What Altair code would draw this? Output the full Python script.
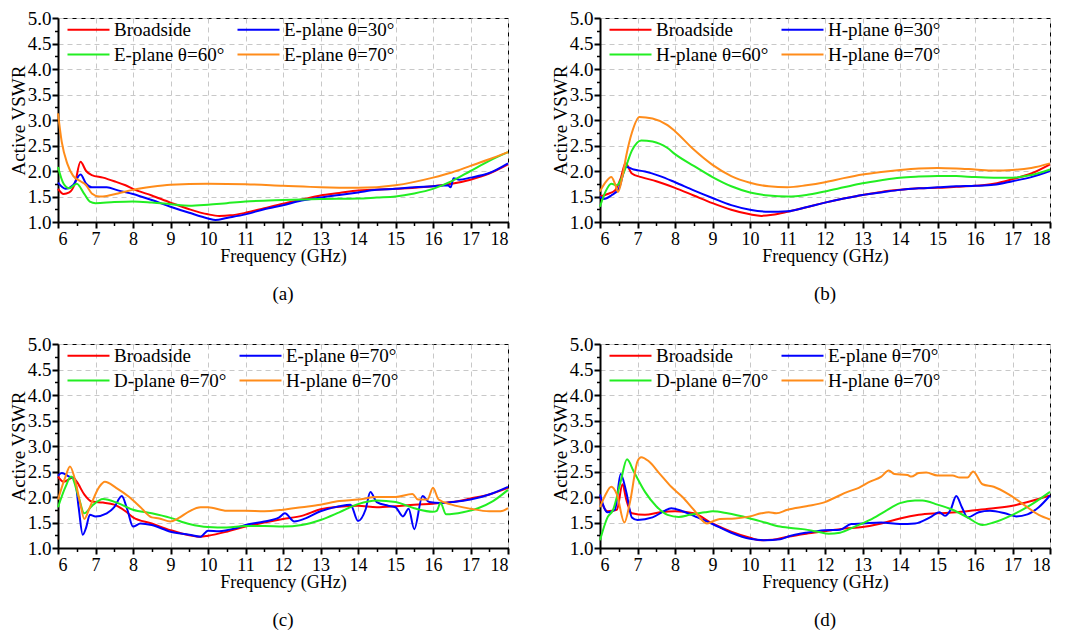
import altair as alt
import pandas as pd

FONT = "Liberation Serif, Times New Roman, Times, serif"
AXIS_FONT = "Liberation Serif"
COLORS = ["#ff0000", "#0000ff", "#22ee22", "#ff8c1a"]

# ---------------- Panel (a) ----------------
a_labels = ["Broadside", "E-plane θ=30°", "E-plane θ=60°", "E-plane θ=70°"]
a_broad_f = [6, 6.15, 6.3, 6.45, 6.6, 6.75, 6.9, 7.2, 7.5, 7.8, 8, 8.5, 9, 9.5, 10, 10.3, 10.6, 11, 11.5, 12, 12.5, 13, 13.5, 14, 15, 16, 16.5, 17, 17.5, 18]
a_broad_v = [1.65, 1.55, 1.58, 1.75, 2.18, 2.0, 1.92, 1.87, 1.8, 1.72, 1.65, 1.52, 1.38, 1.25, 1.15, 1.12, 1.13, 1.18, 1.27, 1.36, 1.44, 1.52, 1.57, 1.62, 1.65, 1.7, 1.75, 1.83, 1.95, 2.13]
a_e30_f = [6, 6.2, 6.4, 6.6, 6.75, 6.9, 7.3, 7.6, 8, 8.5, 9, 9.5, 10, 10.2, 10.5, 11, 11.5, 12, 12.5, 13, 13.5, 14, 14.5, 15, 15.5, 16, 16.4, 16.47, 16.55, 16.7, 17, 17.5, 18]
a_e30_v = [1.77, 1.65, 1.72, 1.93, 1.75, 1.68, 1.68, 1.62, 1.55, 1.43, 1.3, 1.18, 1.07, 1.04, 1.08, 1.15, 1.25, 1.33, 1.42, 1.48, 1.53, 1.58, 1.63, 1.65, 1.68, 1.70, 1.72, 1.68, 1.86, 1.83, 1.87, 1.96, 2.15]
a_e60_f = [6, 6.15, 6.3, 6.5, 6.7, 6.85, 7, 7.5, 8, 8.5, 9, 9.5, 10, 10.5, 11, 12, 13, 14, 14.5, 15, 15.5, 16, 16.5, 17, 17.5, 18]
a_e60_v = [2.08, 1.75, 1.66, 1.75, 1.55, 1.4, 1.37, 1.39, 1.4, 1.38, 1.35, 1.32, 1.34, 1.37, 1.4, 1.43, 1.45, 1.46, 1.48, 1.5, 1.56, 1.65, 1.8, 2.0, 2.2, 2.37]
a_e70_f = [6, 6.1, 6.25, 6.4, 6.6, 6.75, 6.9, 7.1, 7.3, 7.6, 8, 8.5, 9, 10, 11, 12, 13, 14, 15, 16, 16.5, 17, 17.5, 18]
a_e70_v = [3.13, 2.57, 2.14, 1.91, 1.8, 1.72, 1.56, 1.5, 1.51, 1.56, 1.63, 1.69, 1.73, 1.75, 1.74, 1.71, 1.68, 1.67, 1.72, 1.87, 1.97, 2.1, 2.23, 2.37]

# ---------------- Panel (b) ----------------
b_labels = ["Broadside", "H-plane θ=30°", "H-plane θ=60°", "H-plane θ=70°"]
b_broad_f = [6, 6.2, 6.4, 6.55, 6.68, 6.85, 7.1, 7.5, 8, 8.5, 9, 9.5, 10, 10.3, 10.6, 11, 11.5, 12, 12.5, 13, 13.5, 14, 14.5, 15, 15.5, 16, 16.5, 17, 17.5, 18]
b_broad_v = [1.5, 1.55, 1.62, 1.85, 2.15, 1.95, 1.88, 1.8, 1.67, 1.52, 1.37, 1.24, 1.15, 1.12, 1.14, 1.2, 1.29, 1.38, 1.46, 1.53, 1.59, 1.63, 1.66, 1.67, 1.69, 1.71, 1.75, 1.84, 1.95, 2.13]
b_h30_f = [6, 6.1, 6.3, 6.5, 6.7, 6.9, 7.2, 7.6, 8, 8.5, 9, 9.5, 10, 10.5, 11, 11.5, 12, 12.5, 13, 13.5, 14, 14.5, 15, 15.5, 16, 16.5, 17, 17.5, 18]
b_h30_v = [1.5, 1.45, 1.52, 1.65, 2.08, 2.03, 1.99, 1.9, 1.78, 1.62, 1.47, 1.33, 1.24, 1.2, 1.21, 1.29, 1.38, 1.46, 1.53, 1.58, 1.63, 1.66, 1.68, 1.7, 1.71, 1.73, 1.8, 1.88, 2.0]
b_h60_f = [6, 6.15, 6.3, 6.45, 6.65, 6.85, 7.1, 7.4, 7.8, 8, 8.5, 9, 9.5, 10, 10.5, 11, 11.5, 12, 12.5, 13, 13.5, 14, 14.5, 15, 15.5, 16, 16.5, 17, 17.5, 18]
b_h60_v = [1.3, 1.6, 1.75, 1.72, 2.0, 2.4, 2.6, 2.58, 2.45, 2.33, 2.1, 1.88, 1.7, 1.58, 1.52, 1.5, 1.53, 1.6, 1.68, 1.76, 1.82, 1.87, 1.89, 1.9, 1.9, 1.88, 1.87, 1.87, 1.92, 2.03]
b_h70_f = [6, 6.15, 6.3, 6.4, 6.48, 6.6, 6.7, 6.85, 7.05, 7.4, 7.8, 8, 8.5, 9, 9.5, 10, 10.5, 11, 11.5, 12, 12.5, 13, 13.5, 14, 14.5, 15, 15.5, 16, 16.5, 17, 17.5, 18]
b_h70_v = [1.6, 1.78, 1.88, 1.75, 1.59, 1.9, 2.3, 2.75, 3.06, 3.03, 2.9, 2.78, 2.42, 2.12, 1.9, 1.77, 1.7, 1.68, 1.72, 1.78, 1.86, 1.93, 1.98, 2.02, 2.05, 2.06, 2.05, 2.03, 2.01, 2.02, 2.06, 2.15]

# ---------------- Panel (c) ----------------
c_labels = ["Broadside", "E-plane θ=70°", "D-plane θ=70°", "H-plane θ=70°"]
c_broad_f = [6, 6.15, 6.4, 6.5, 6.7, 6.9, 7.2, 7.5, 7.8, 8, 8.5, 9, 9.5, 9.8, 10, 10.5, 11, 11.5, 12, 12.5, 13, 13.5, 14, 14.5, 15, 15.5, 16, 16.5, 17, 17.5, 18]
c_broad_v = [2.4, 2.3, 2.38, 2.3, 2.05, 1.91, 1.89, 1.85, 1.72, 1.6, 1.48, 1.35, 1.25, 1.22, 1.24, 1.32, 1.42, 1.5, 1.57, 1.63, 1.76, 1.81, 1.83, 1.8, 1.82, 1.85, 1.87, 1.9, 1.97, 2.05, 2.18]
c_e70_f = [6, 6.1, 6.3, 6.45, 6.55, 6.66, 6.75, 6.85, 7, 7.3, 7.5, 7.7, 7.85, 8.0, 8.2, 8.5, 9, 9.5, 9.8, 10, 10.3, 10.7, 11, 11.5, 11.9, 12.05, 12.3, 12.6, 13, 13.5, 13.8, 14.0, 14.2, 14.33, 14.5, 14.8, 15, 15.2, 15.35, 15.5, 15.72, 15.9, 16.2, 16.5, 17, 17.5, 18]
c_e70_v = [2.42, 2.47, 2.4, 2.35, 1.8, 1.26, 1.4, 1.65, 1.62, 1.68, 1.8, 2.02, 1.75, 1.42, 1.48, 1.45, 1.32, 1.26, 1.22, 1.34, 1.33, 1.38, 1.45, 1.52, 1.6, 1.68, 1.52, 1.58, 1.72, 1.82, 1.85, 1.53, 1.75, 2.1, 1.9, 1.83, 1.8, 1.62, 1.77, 1.37, 2.02, 1.9, 1.88, 1.9, 1.95, 2.05, 2.2]
c_d70_f = [6, 6.2, 6.35, 6.55, 6.7, 6.9, 7.2, 7.6, 8, 8.5, 9, 9.5, 10, 10.5, 11, 11.5, 12, 12.5, 13, 13.5, 14, 14.5, 15, 15.5, 16, 16.1, 16.2, 16.35, 16.8, 17.2, 17.6, 18]
c_d70_v = [1.8, 2.2, 2.4, 2.0, 1.68, 1.82, 1.96, 1.88, 1.75, 1.68, 1.59, 1.47, 1.41, 1.4, 1.43, 1.43, 1.42, 1.45, 1.55, 1.7, 1.86, 1.93, 1.9, 1.78, 1.71, 1.73, 1.88, 1.66, 1.7, 1.78, 1.92, 2.14]
c_h70_f = [6, 6.2, 6.32, 6.45, 6.6, 6.7, 6.85, 7.1, 7.25, 7.55, 7.9, 8.2, 8.5, 8.7, 9.0, 9.2, 9.5, 9.8, 10.0, 10.5, 11, 11.5, 12, 12.5, 13, 13.5, 14, 14.5, 15, 15.45, 15.6, 15.85, 16.0, 16.15, 16.5, 17, 17.5, 17.8, 18]
c_h70_v = [1.95, 2.4, 2.6, 2.35, 1.85, 1.57, 1.8, 2.2, 2.3, 2.18, 2.0, 1.8, 1.6, 1.58, 1.52, 1.58, 1.72, 1.8, 1.8, 1.73, 1.73, 1.72, 1.75, 1.8, 1.85, 1.92, 1.95, 2.0, 2.0, 2.06, 1.95, 1.95, 2.18, 1.95, 1.85, 1.77, 1.72, 1.72, 1.78]

# ---------------- Panel (d) ----------------
d_labels = ["Broadside", "E-plane θ=70°", "D-plane θ=70°", "H-plane θ=70°"]
d_broad_f = [6, 6.2, 6.45, 6.6, 6.7, 6.85, 7.2, 7.6, 8, 8.5, 9, 9.5, 10, 10.3, 10.6, 11, 11.5, 12, 12.5, 13, 13.5, 14, 14.5, 15, 15.5, 16, 16.5, 17, 17.5, 18]
d_broad_v = [1.98, 1.72, 1.75, 2.25, 1.95, 1.68, 1.65, 1.7, 1.72, 1.68, 1.48, 1.32, 1.2, 1.15, 1.16, 1.22, 1.28, 1.33, 1.38, 1.41, 1.48, 1.58, 1.65, 1.68, 1.7, 1.74, 1.78, 1.83, 1.92, 2.03]
d_e70_f = [6, 6.2, 6.4, 6.55, 6.7, 6.85, 7, 7.4, 7.7, 7.9, 8.2, 8.6, 9, 9.5, 10, 10.4, 10.8, 11, 11.5, 12, 12.4, 12.7, 13, 13.5, 14, 14.4, 14.8, 15.05, 15.2, 15.35, 15.5, 15.65, 15.8, 16.1, 16.4, 16.8, 17.1, 17.4, 17.7, 18]
d_e70_v = [2.05, 1.7, 1.75, 2.45, 2.1, 1.6, 1.55, 1.6, 1.72, 1.78, 1.72, 1.6, 1.47, 1.3, 1.18, 1.15, 1.17, 1.22, 1.3, 1.35, 1.36, 1.47, 1.48, 1.5, 1.47, 1.48, 1.6, 1.7, 1.63, 1.75, 2.02, 1.8, 1.6, 1.7, 1.73, 1.68, 1.62, 1.66, 1.8, 2.03]
d_d70_f = [6, 6.2, 6.35, 6.55, 6.72, 6.9, 7.2, 7.5, 7.8, 8.1, 8.4, 8.8, 9, 9.4, 10, 10.4, 10.8, 11.4, 11.8, 12.1, 12.4, 12.8, 13.2, 13.6, 14, 14.4, 14.6, 15, 15.4, 15.8, 16.2, 16.5, 17, 17.5, 18]
d_d70_v = [1.15, 1.6, 1.75, 2.3, 2.74, 2.5, 2.1, 1.82, 1.65, 1.61, 1.65, 1.7, 1.72, 1.68, 1.58, 1.5, 1.42, 1.37, 1.32, 1.28, 1.3, 1.42, 1.55, 1.72, 1.88, 1.93, 1.93, 1.85, 1.75, 1.6, 1.45, 1.5, 1.65, 1.85, 2.1]
d_h70_f = [6, 6.15, 6.3, 6.45, 6.65, 6.8, 7.0, 7.1, 7.3, 7.6, 7.9, 8.2, 8.5, 8.85, 9.0, 9.2, 9.6, 10.0, 10.3, 10.5, 10.7, 11, 11.5, 12, 12.3, 12.6, 12.9, 13.2, 13.5, 13.7, 13.85, 14.2, 14.3, 14.5, 14.7, 15, 15.4, 15.6, 15.8, 15.95, 16.2, 16.5, 16.9, 17.3, 17.7, 18]
d_h70_v = [1.8, 2.05, 2.2, 2.05, 1.5, 1.9, 2.7, 2.78, 2.7, 2.45, 2.2, 2.0, 1.75, 1.48, 1.52, 1.57, 1.58, 1.62, 1.68, 1.7, 1.68, 1.75, 1.82, 1.9, 2.0, 2.1, 2.18, 2.3, 2.4, 2.52, 2.45, 2.43, 2.4, 2.47, 2.48, 2.42, 2.42, 2.38, 2.38, 2.5, 2.25, 2.2, 2.05, 1.85, 1.65, 1.56]

X_TICKS = list(range(6, 19))
X_MINOR = [x + 0.5 for x in range(6, 18)]
Y_TICKS = [1.0, 1.5, 2.0, 2.5, 3.0, 3.5, 4.0, 4.5, 5.0]
Y_MINOR = [1.25, 1.75, 2.25, 2.75, 3.25, 3.75, 4.25, 4.75]

# legend line symbol: a short horizontal path (unit scale = sqrt(size)/2 = 7px)
LEGEND_LINE = "M-1,0H5"


def make_df(labels, series):
    rows = []
    for lab, (fs, vs) in zip(labels, series):
        for f, v in zip(fs, vs):
            rows.append({"freq": f, "vswr": v, "series": lab})
    return pd.DataFrame(rows)


def panel(labels, series, caption):
    df = make_df(labels, series)
    xs = alt.Scale(domain=[6, 18], nice=False, zero=False)
    ys = alt.Scale(domain=[1, 5], nice=False, zero=False)
    color = alt.Color(
        "series:N",
        sort=labels,
        scale=alt.Scale(domain=labels, range=COLORS),
        legend=alt.Legend(
            title=None, orient="none", legendX=7, legendY=2, columns=2,
            direction="horizontal",
            symbolType=LEGEND_LINE, symbolSize=196, symbolStrokeWidth=2,
            labelFont=FONT, labelFontSize=19, labelColor="black",
            columnPadding=8, rowPadding=5, labelOffset=30, padding=0,
            labelLimit=300,
        ),
    )
    xaxis = alt.Axis(
        values=X_TICKS, format="d", title="Frequency (GHz)", grid=True,
        gridDash=[5, 4], gridColor="#c8c8c8", gridWidth=1,
        tickSize=6, tickWidth=2, domainWidth=2, domainColor="black",
        tickColor="black", labelFont=AXIS_FONT, titleFont=AXIS_FONT,
        labelColor="black", titleColor="black", titleFontWeight="normal",
        labelFontSize=18, titleFontSize=18, titleY=34,
        titleBaseline="middle", labelPadding=2,
    )
    yaxis = alt.Axis(
        values=Y_TICKS, format=".1f", title="Active VSWR", grid=True,
        gridDash=[5, 4], gridColor="#c8c8c8", gridWidth=1,
        tickSize=6, tickWidth=2, domainWidth=2, domainColor="black",
        tickColor="black", labelFont=AXIS_FONT, titleFont=AXIS_FONT,
        labelColor="black", titleColor="black", titleFontWeight="normal",
        labelFontSize=19, titleFontSize=19, titleX=-40,
        titleBaseline="middle", labelPadding=1,
    )
    lines = alt.Chart(df).mark_line(strokeWidth=2, interpolate="monotone").encode(
        x=alt.X("freq:Q", scale=xs, axis=xaxis),
        y=alt.Y("vswr:Q", scale=ys, axis=yaxis),
        color=color,
    )
    minor = alt.Chart(df).mark_line(opacity=0).encode(
        x=alt.X("freq:Q", scale=xs, axis=alt.Axis(
            orient="bottom", values=X_MINOR, labels=False, domain=False,
            grid=False, tickSize=3.5, tickWidth=1.5, tickColor="black",
            title=None)),
        y=alt.Y("vswr:Q", scale=ys, axis=alt.Axis(
            orient="left", values=Y_MINOR, labels=False, domain=False,
            grid=False, tickSize=3.5, tickWidth=1.5, tickColor="black",
            title=None)),
        detail="series:N",
    )
    return alt.layer(lines, minor).resolve_axis(x="independent", y="independent").properties(
        width=450, height=204,
        title=alt.TitleParams(caption, orient="bottom", fontSize=19, font=FONT,
                              fontWeight="normal", color="black", offset=20,
                              anchor="middle"),
    )


pa = panel(a_labels, [(a_broad_f, a_broad_v), (a_e30_f, a_e30_v), (a_e60_f, a_e60_v), (a_e70_f, a_e70_v)], "(a)")
pb = panel(b_labels, [(b_broad_f, b_broad_v), (b_h30_f, b_h30_v), (b_h60_f, b_h60_v), (b_h70_f, b_h70_v)], "(b)")
pc = panel(c_labels, [(c_broad_f, c_broad_v), (c_e70_f, c_e70_v), (c_d70_f, c_d70_v), (c_h70_f, c_h70_v)], "(c)")
pd_ = panel(d_labels, [(d_broad_f, d_broad_v), (d_e70_f, d_e70_v), (d_d70_f, d_d70_v), (d_h70_f, d_h70_v)], "(d)")

chart = alt.concat(
    pa, pb, pc, pd_, columns=2, bounds="flush",
    spacing=alt.RowColnumber(row=122, column=92),
).resolve_scale(color="independent").resolve_legend(color="independent").properties(
    padding={"left": 0, "top": 0, "right": 0, "bottom": 0},
    background="white",
).configure_view(stroke="black", strokeWidth=1)

chart.save("out.html", embed_options={"renderer": "svg", "actions": False})
